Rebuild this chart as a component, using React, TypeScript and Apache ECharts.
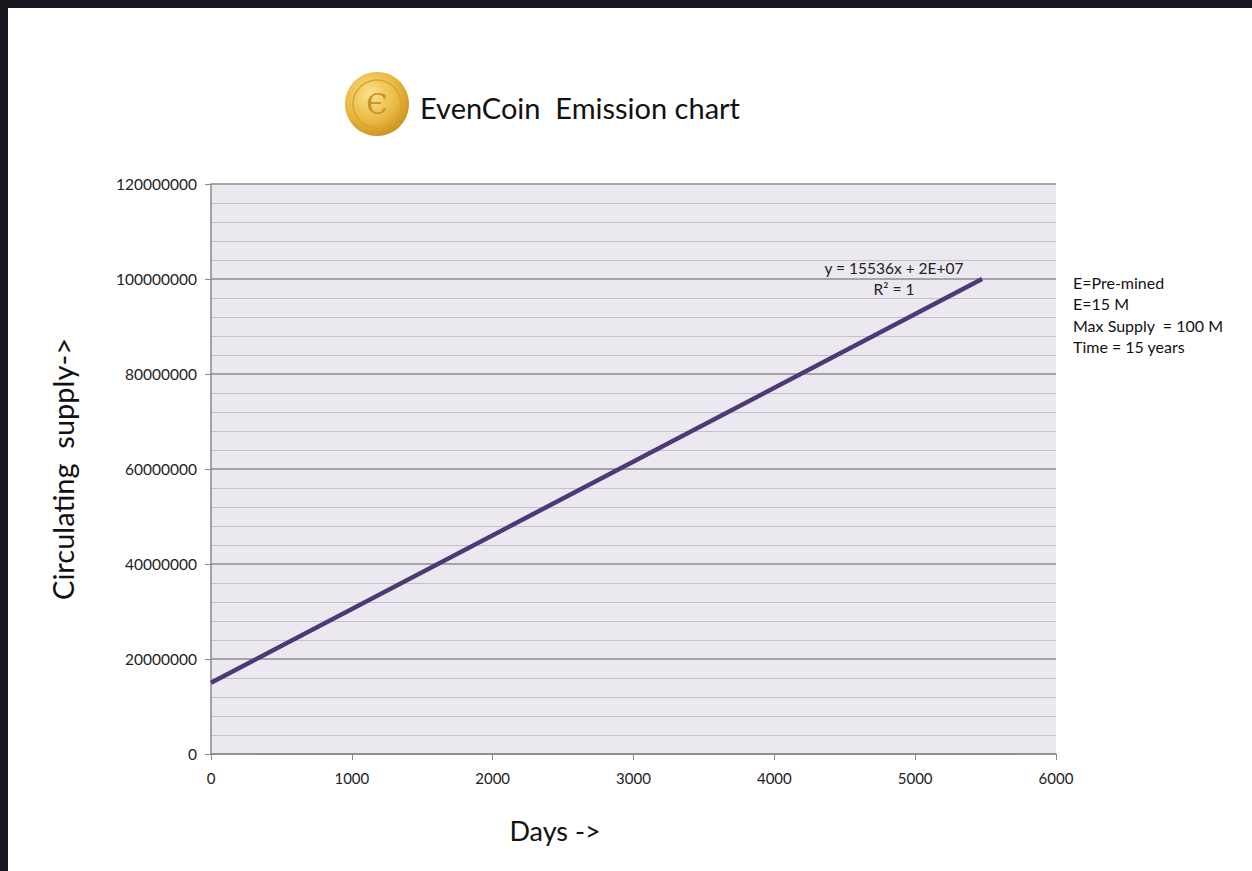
import React, { useEffect, useRef } from "react";
import * as echarts from "echarts";

const days: number[] = [0, 5475];
const supply: number[] = [15000000, 100000000];
const xTicks: number[] = [0, 1000, 2000, 3000, 4000, 5000, 6000];
const yTicks: number[] = [0, 20000000, 40000000, 60000000, 80000000, 100000000, 120000000];
const notes: string[] = ["E=Pre-mined", "E=15 M", "Max Supply  = 100 M", "Time = 15 years"];
const trendLines: string[] = ["y = 15536x + 2E+07", "R² = 1"];

const FONT = "Lato, 'Open Sans', sans-serif";

export default function App() {
  const ref = useRef<HTMLDivElement>(null);
  useEffect(() => {
    if (!ref.current) return;
    const chart = echarts.init(ref.current, undefined, { renderer: "svg" });
    const data = days.map((d, i) => [d, supply[i]]);
    chart.setOption({
      animation: false,
      backgroundColor: "#17181e",
      textStyle: { fontFamily: FONT },
      grid: { left: 211, top: 184, right: 196, bottom: 117, show: true, backgroundColor: "#ebe9ef", borderWidth: 0 },
      xAxis: {
        type: "value",
        min: xTicks[0],
        max: xTicks[xTicks.length - 1],
        interval: 1000,
        axisLine: { show: true, lineStyle: { color: "#8a8a8a", width: 1.5 } },
        axisTick: { show: true, length: 6, lineStyle: { color: "#8a8a8a" } },
        axisLabel: { color: "#222", fontSize: 15, fontFamily: FONT, margin: 16, formatter: (v: number) => String(v) },
        splitLine: { show: false },
      },
      yAxis: {
        type: "value",
        min: yTicks[0],
        max: yTicks[yTicks.length - 1],
        interval: 20000000,
        axisLine: { show: true, lineStyle: { color: "#8a8a8a", width: 1.5 } },
        axisTick: { show: true, length: 6, lineStyle: { color: "#8a8a8a" } },
        axisLabel: { color: "#222", fontSize: 15.5, fontFamily: FONT, margin: 14, formatter: (v: number) => String(v) },
        splitLine: { show: true, lineStyle: { color: "#8c8c8c", width: 1.5 } },
        minorTick: { show: false, splitNumber: 5 },
        minorSplitLine: { show: true, lineStyle: { color: "#c2c1c7", width: 1.2 } },
      },
      series: [
        {
          type: "line",
          data,
          symbol: "none",
          lineStyle: { color: "#4e3877", width: 4.5 },
        },
      ],
      graphic: [
        { type: "rect", shape: { x: 8, y: 8, width: 1244, height: 863 }, style: { fill: "#ffffff" }, z: -10 },
        {
          type: "circle",
          shape: { cx: 377, cy: 104, r: 32 },
          style: {
            fill: new echarts.graphic.RadialGradient(0.4, 0.35, 0.7, [
              { offset: 0, color: "#fbe38f" },
              { offset: 0.6, color: "#e8b940" },
              { offset: 1, color: "#c98f1c" },
            ]),
          },
        },
        { type: "circle", shape: { cx: 377, cy: 104, r: 24 }, style: { fill: "none", stroke: "#d9a433", lineWidth: 1.5 } },
        {
          type: "text",
          style: { x: 377, y: 104, text: "Є", fontSize: 28, fontFamily: "'DejaVu Serif', serif", fill: "#c8922a", align: "center", verticalAlign: "middle" },
        },
        {
          type: "text",
          style: { x: 420, y: 107, text: "EvenCoin  Emission chart", fontSize: 29, fontFamily: FONT, fill: "#111", align: "left", verticalAlign: "middle" },
        },
        {
          type: "text",
          rotation: Math.PI / 2,
          x: 62,
          y: 469,
          style: { x: 0, y: 0, text: "Circulating  supply->", fontSize: 29, fontFamily: FONT, fill: "#111", align: "center", verticalAlign: "middle" },
        },
        {
          type: "text",
          style: { x: 555, y: 830, text: "Days ->", fontSize: 27, fontFamily: FONT, fill: "#111", align: "center", verticalAlign: "middle" },
        },
        {
          type: "text",
          style: { x: 894, y: 268, text: trendLines[0], fontSize: 15.5, fontFamily: FONT, fill: "#222", align: "center", verticalAlign: "middle" },
        },
        {
          type: "text",
          style: { x: 894, y: 289, text: trendLines[1], fontSize: 15.5, fontFamily: FONT, fill: "#222", align: "center", verticalAlign: "middle" },
        },
        ...notes.map((t, i) => ({
          type: "text",
          style: { x: 1073, y: 282 + i * 21.5, text: t, fontSize: 16, fontFamily: FONT, fill: "#111", align: "left", verticalAlign: "middle" },
        })),
      ],
    });
    return () => chart.dispose();
  }, []);
  return <div ref={ref} style={{ position: "absolute", left: 0, top: 0, width: 1252, height: 871 }} />;
}
